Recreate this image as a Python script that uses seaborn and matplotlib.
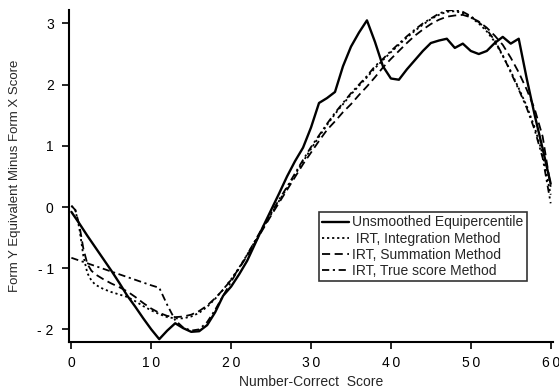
import numpy as np
import pandas as pd
import matplotlib
matplotlib.use("Agg")
import matplotlib.pyplot as plt
import seaborn as sns

# ---------------- data ----------------
equi_x = list(range(0, 61))
equi_y = [-0.08, -0.27, -0.47, -0.66, -0.85, -1.04, -1.24, -1.45, -1.63, -1.82,
          -2.00, -2.16, -2.02, -1.90, -1.98, -2.04, -2.03, -1.93, -1.72, -1.45,
          -1.30, -1.10, -0.88, -0.60, -0.32, -0.05, 0.22, 0.50, 0.75, 0.97,
          1.30, 1.70, 1.78, 1.88, 2.30, 2.62, 2.85, 3.05, 2.70, 2.30,
          2.10, 2.08, 2.25, 2.40, 2.55, 2.68, 2.72, 2.75, 2.60, 2.67,
          2.55, 2.50, 2.55, 2.68, 2.78, 2.67, 2.75, 2.10, 1.50, 0.95,
          0.38]

integ_x = [0, 0.5, 1, 1.5, 2, 2.5, 3] + list(range(4, 61))
integ_y = [0.02, -0.05, -0.35, -0.80, -1.08, -1.20, -1.27,
           -1.34, -1.39, -1.43, -1.47, -1.54, -1.62, -1.69, -1.75, -1.80, -1.82,
           -1.82, -1.79, -1.73, -1.63, -1.50, -1.35, -1.18, -0.99, -0.78, -0.56,
           -0.34, -0.12, 0.10, 0.31, 0.53, 0.74, 0.95, 1.15, 1.34, 1.52,
           1.68, 1.84, 1.98, 2.12, 2.27, 2.40, 2.53, 2.65, 2.77, 2.88,
           2.98, 3.07, 3.14, 3.19, 3.20, 3.17, 3.10, 3.00, 2.87, 2.70,
           2.47, 2.22, 1.94, 1.65, 1.30, 0.86, 0.20]

summ_x = [0, 0.5, 1, 1.5, 2, 2.5, 3] + list(range(4, 61))
summ_y = [0.02, -0.05, -0.30, -0.68, -0.93, -1.04, -1.10,
          -1.18, -1.25, -1.31, -1.38, -1.47, -1.57, -1.66, -1.73, -1.78, -1.80,
          -1.79, -1.76, -1.70, -1.61, -1.49, -1.35, -1.19, -1.00, -0.80, -0.58,
          -0.36, -0.14, 0.07, 0.28, 0.49, 0.70, 0.89, 1.08, 1.26, 1.40,
          1.55, 1.68, 1.83, 1.97, 2.12, 2.28, 2.42, 2.55, 2.68, 2.80,
          2.90, 2.99, 3.06, 3.11, 3.13, 3.14, 3.10, 3.03, 2.93, 2.80,
          2.65, 2.44, 2.20, 1.92, 1.60, 1.15, 0.33]

true_x = [0, 2, 4, 6, 8, 10] + list(range(11, 61))
true_y = [-0.83, -0.92, -1.01, -1.10, -1.19, -1.28,
          -1.32, -1.60, -1.85, -1.97, -2.02, -2.00, -1.88, -1.68, -1.45, -1.22,
          -1.00, -0.78, -0.55, -0.32, -0.10, 0.12, 0.33, 0.55, 0.77, 0.98,
          1.17, 1.36, 1.54, 1.70, 1.86, 2.00, 2.14, 2.30, 2.42, 2.55,
          2.67, 2.79, 2.90, 3.00, 3.08, 3.16, 3.21, 3.22, 3.19, 3.12,
          3.02, 2.90, 2.72, 2.48, 2.20, 1.92, 1.62, 1.26, 0.80, 0.06]

labels = ["Unsmoothed Equipercentile", " IRT, Integration Method",
          "IRT, Summation Method", "IRT, True score Method"]

x_ticks = [0, 10, 20, 30, 40, 50, 60]
x_ticklabels = ["0", "1\u20090", "2\u20090", "3\u20090", "4\u20090", "5\u20090", "6\u20090"]
y_ticks = [-2, -1, 0, 1, 2, 3]
y_ticklabels = ["- 2", "- 1", "0", "1", "2", "3"]

# ---------------- plot ----------------
sns.set_style("ticks")
plt.rcParams["font.family"] = ["Liberation Sans", "DejaVu Sans"]

fig = plt.figure(figsize=(5.59, 3.88), dpi=100)
ax = fig.add_axes([0.1234, 0.1186, 0.866, 0.8557])

sns.lineplot(x=equi_x, y=equi_y, ax=ax, color="black", lw=1.7,
             linestyle="-", label=labels[0])
sns.lineplot(x=integ_x, y=integ_y, ax=ax, color="black", lw=1.3,
             linestyle=(0, (1.2, 1.6)), label=labels[1])
sns.lineplot(x=summ_x, y=summ_y, ax=ax, color="black", lw=1.3,
             linestyle=(0, (4.5, 2.5)), label=labels[2])
sns.lineplot(x=true_x, y=true_y, ax=ax, color="black", lw=1.3,
             linestyle=(0, (4, 2, 1.2, 2)), label=labels[3])

ax.set_xlim(-0.3, 60.3)
ax.set_ylim(-2.206, 3.22)
ax.set_xticks(x_ticks)
ax.set_xticklabels(x_ticklabels)
ax.set_yticks(y_ticks)
ax.set_yticklabels(y_ticklabels)
ax.tick_params(axis="both", direction="out", length=5, width=1.2,
               labelsize=10, colors="black")
ax.tick_params(axis="y", pad=6)
ax.tick_params(axis="x", pad=5)
for s in ["top", "right"]:
    ax.spines[s].set_visible(False)
for s in ["left", "bottom"]:
    ax.spines[s].set_linewidth(1.5)
    ax.spines[s].set_color("black")

ax.set_xlabel("Number-Correct  Score", fontsize=10, labelpad=4)
ax.set_ylabel("Form Y Equivalent Minus Form X Score", fontsize=9.5, labelpad=12)

leg = ax.legend(loc="upper left", bbox_to_anchor=(0.5165, 0.3916),
                frameon=True, fancybox=False, edgecolor="black",
                fontsize=10, handlelength=1.9, handletextpad=0.25,
                labelspacing=0.15, borderpad=0.25, borderaxespad=0)
leg.get_frame().set_linewidth(1.2)

fig.savefig("out.png", dpi=100, facecolor="white")
